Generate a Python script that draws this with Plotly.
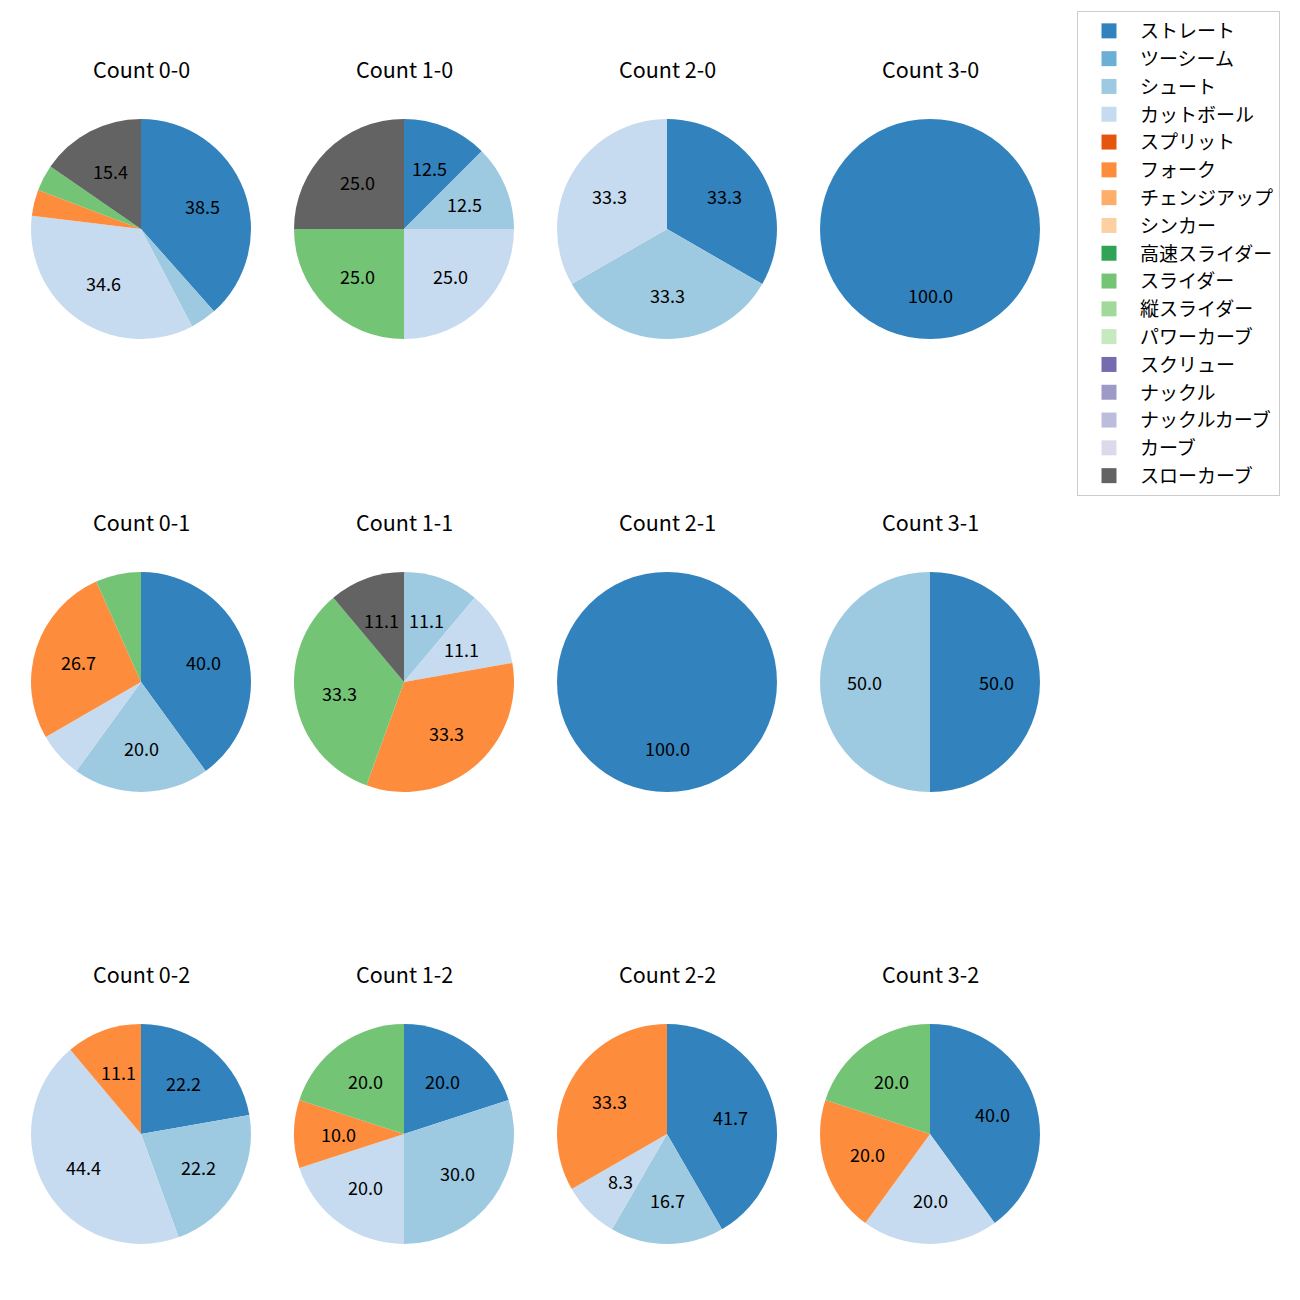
import math
import plotly.graph_objects as go

# ---- data ----
pitch_types = ["ストレート", "ツーシーム", "シュート", "カットボール", "スプリット", "フォーク",
               "チェンジアップ", "シンカー", "高速スライダー", "スライダー", "縦スライダー",
               "パワーカーブ", "スクリュー", "ナックル", "ナックルカーブ", "カーブ", "スローカーブ"]
pitch_colors = ["#3182bd", "#6baed6", "#9ecae1", "#c6dbef", "#e6550d", "#fd8d3c",
                "#fdae6b", "#fdd0a2", "#31a354", "#74c476", "#a1d99b", "#c7e9c0",
                "#756bb1", "#9e9ac8", "#bcbddc", "#dadaeb", "#636363"]

counts = ["0-0", "1-0", "2-0", "3-0", "0-1", "1-1", "2-1", "3-1", "0-2", "1-2", "2-2", "3-2"]

c00_labels = ["ストレート", "シュート", "カットボール", "フォーク", "スライダー", "スローカーブ"]
c00_values = [10, 1, 9, 1, 1, 4]
c10_labels = ["ストレート", "シュート", "カットボール", "スライダー", "スローカーブ"]
c10_values = [1, 1, 2, 2, 2]
c20_labels = ["ストレート", "シュート", "カットボール"]
c20_values = [1, 1, 1]
c30_labels = ["ストレート"]
c30_values = [1]
c01_labels = ["ストレート", "シュート", "カットボール", "フォーク", "スライダー"]
c01_values = [6, 3, 1, 4, 1]
c11_labels = ["シュート", "カットボール", "フォーク", "スライダー", "スローカーブ"]
c11_values = [1, 1, 3, 3, 1]
c21_labels = ["ストレート"]
c21_values = [1]
c31_labels = ["ストレート", "シュート"]
c31_values = [1, 1]
c02_labels = ["ストレート", "シュート", "カットボール", "フォーク"]
c02_values = [2, 2, 4, 1]
c12_labels = ["ストレート", "シュート", "カットボール", "フォーク", "スライダー"]
c12_values = [2, 3, 2, 1, 2]
c22_labels = ["ストレート", "シュート", "カットボール", "フォーク"]
c22_values = [5, 2, 1, 4]
c32_labels = ["ストレート", "カットボール", "フォーク", "スライダー"]
c32_values = [2, 1, 1, 1]

pie_data = [
    (c00_labels, c00_values), (c10_labels, c10_values), (c20_labels, c20_values), (c30_labels, c30_values),
    (c01_labels, c01_values), (c11_labels, c11_values), (c21_labels, c21_values), (c31_labels, c31_values),
    (c02_labels, c02_values), (c12_labels, c12_values), (c22_labels, c22_values), (c32_labels, c32_values),
]

# ---- layout geometry (pixels) ----
W = H = 1300
OFF = 8  # page body margin compensation
col_cx = [141 - OFF, 404 - OFF, 667 - OFF, 930 - OFF]
row_cy = [229 - OFF, 682 - OFF, 1134 - OFF]
R = 110
title_offset = 161
PCT_DIST = 0.6
FONT = "Noto Sans CJK JP, Noto Sans, DejaVu Sans, sans-serif"
color_map = dict(zip(pitch_types, pitch_colors))

fig = go.Figure()
annotations = []
for i, (count, (labels, values)) in enumerate(zip(counts, pie_data)):
    r, c = divmod(i, 4)
    cx, cy = col_cx[c], row_cy[r]
    total = sum(values)
    fig.add_trace(go.Pie(
        labels=labels, values=values, textinfo="none",
        marker=dict(colors=[color_map[l] for l in labels], line=dict(width=0)),
        sort=False, direction="clockwise", rotation=0,
        showlegend=False, hoverinfo="label+percent",
        domain=dict(x=[(cx - R) / W, (cx + R) / W], y=[1 - (cy + R) / H, 1 - (cy - R) / H]),
    ))
    annotations.append(dict(
        text=f"Count {count}", x=cx / W, y=1 - (cy - title_offset) / H,
        xref="paper", yref="paper", showarrow=False, xanchor="center", yanchor="middle",
        font=dict(size=21.5, color="black", family=FONT),
    ))
    # percentage labels at 0.6 radius of each slice's mid-angle (matplotlib autopct style)
    cum = 0
    for v in values:
        pct = v / total * 100
        mid = (cum + v / 2) / total * 2 * math.pi
        cum += v
        if pct < 8:
            continue
        px = cx + PCT_DIST * R * math.sin(mid)
        py = cy - PCT_DIST * R * math.cos(mid)
        annotations.append(dict(
            text=f"{pct:.1f}", x=px / W, y=1 - py / H, xref="paper", yref="paper",
            showarrow=False, xanchor="center", yanchor="middle",
            font=dict(size=18, color="black", family=FONT),
        ))

# legend entries
for name, col in zip(pitch_types, pitch_colors):
    fig.add_trace(go.Scatter(
        x=[None], y=[None], mode="markers", name=name, legendgroup=name,
        marker=dict(symbol="square", size=15, color=col),
    ))

fig.update_layout(
    width=W, height=H, margin=dict(l=0, r=0, t=0, b=0),
    paper_bgcolor="white", plot_bgcolor="white",
    font=dict(family=FONT, color="black"),
    annotations=annotations,
    xaxis=dict(visible=False), yaxis=dict(visible=False),
    legend=dict(
        x=(1077 - OFF) / W, y=1 - (11 - OFF) / H, xanchor="left", yanchor="top",
        bordercolor="#cccccc", borderwidth=1, bgcolor="white",
        font=dict(size=19, family=FONT), tracegroupgap=0.1, itemwidth=52,
    ),
)

fig.write_html("out.html")
